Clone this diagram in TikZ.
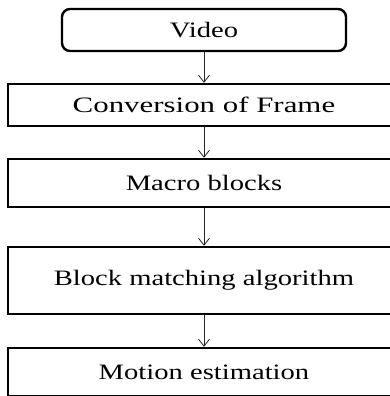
\documentclass[tikz,border=0pt]{standalone}
\usepackage{fontspec}
\setmainfont[FakeStretch=1.3]{Liberation Serif}
\usetikzlibrary{arrows.meta}
\begin{document}
\begin{tikzpicture}[x=1pt,y=-1pt,
  box/.style={draw=black,line width=2.4pt,inner sep=0pt,minimum width=392pt,
    font=\fontsize{22}{26}\selectfont},
  conn/.style={draw=black!85,line width=0.8pt,-{Straight Barb[length=7pt,width=11pt]}}]
\useasboundingbox (0,0) rectangle (390,396);
\clip (0,0) rectangle (390,396);
\fill[white] (0,0) rectangle (390,396);
\node[box,rounded corners=8pt,minimum width=284pt,minimum height=42pt] (video) at (204,30) {Video};
\node[box,minimum height=42pt] (conv) at (204,105) {\scalebox{1.08}[1]{Conversion of Frame}};
\node[box,minimum height=48pt] (macro) at (204,183) {Macro blocks};
\node[box,minimum height=67pt] (bma) at (204,280.5) {Block matching algorithm};
\node[box,minimum height=48.5pt] (motion) at (204,372.25) {Motion estimation};
\draw[conn] (video) -- (conv);
\draw[conn] (conv) -- (macro);
\draw[conn] (macro) -- (bma);
\draw[conn] (bma) -- (motion);
\end{tikzpicture}
\end{document}
